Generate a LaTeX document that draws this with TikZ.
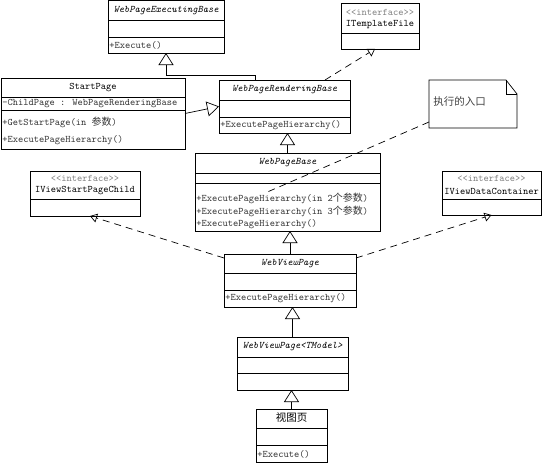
\documentclass[tikz,border=0pt]{standalone}
\usepackage{fontspec}
\newfontfamily\cjk{Noto Sans CJK SC}
\usetikzlibrary{arrows.meta,calc}
\begin{document}
\begin{tikzpicture}[x=1pt,y=-1pt,line width=0.7pt,
  cls/.style={draw=black,fill=white,inner sep=0pt,outer sep=0pt},
  ttl/.style={font=\ttfamily\itshape\fontsize{10}{12}\selectfont,inner sep=0pt,text=black},
  ttn/.style={font=\ttfamily\fontsize{10}{12}\selectfont,inner sep=0pt,text=black},
  mem/.style={font=\ttfamily\fontsize{10}{12}\selectfont,inner sep=0pt,anchor=west,text=black!80},
  stereo/.style={font=\ttfamily\fontsize{10}{12}\selectfont,inner sep=0pt,text=black!50},
  inh/.style={draw=black,line width=0.7pt,-{Triangle[open,length=12pt,width=15pt]}},
  real/.style={draw=black,line width=0.7pt,dash pattern=on 7pt off 5pt,-{Triangle[open,length=7pt,width=9pt]}},
  anc/.style={draw=black,line width=0.7pt,dash pattern=on 7pt off 5pt}]
\useasboundingbox (0,0) rectangle (548,463);

% ---- connectors (drawn first, boxes on top) ----
\node[cls,minimum width=116pt,minimum height=52.5pt] (wpeb) at (166,26.75) {};
\node[cls,minimum width=78pt,minimum height=46pt] (itf) at (380,26) {};
\node[cls,minimum width=184pt,minimum height=71pt] (sp) at (93,113.5) {};
\node[cls,minimum width=131pt,minimum height=53pt] (wprb) at (284.5,106.5) {};
\node[minimum width=88pt,minimum height=48pt,inner sep=0pt,outer sep=0pt] (note) at (473,104) {};
\node[cls,minimum width=185pt,minimum height=78pt] (wpb) at (287.5,192) {};
\node[cls,minimum width=110pt,minimum height=45pt] (ivspc) at (85,193.5) {};
\node[cls,minimum width=99pt,minimum height=44pt] (ivdc) at (491.5,193) {};
\node[cls,minimum width=132pt,minimum height=53pt] (wvp) at (290,280.5) {};
\node[cls,minimum width=111pt,minimum height=53pt] (wvpt) at (292.5,363.5) {};
\node[cls,minimum width=71pt,minimum height=53pt] (view) at (291.5,435.5) {};

% separators
\draw (wpeb.west |- 0,20) -- (wpeb.east |- 0,20);
\draw (wpeb.west |- 0,37) -- (wpeb.east |- 0,37);
\draw (itf.west |- 0,33) -- (itf.east |- 0,33);
\draw (sp.west |- 0,97) -- (sp.east |- 0,97);
\draw (sp.west |- 0,110) -- (sp.east |- 0,110);
\draw (wprb.west |- 0,100) -- (wprb.east |- 0,100);
\draw (wprb.west |- 0,117) -- (wprb.east |- 0,117);
\draw (wpb.west |- 0,173) -- (wpb.east |- 0,173);
\draw (wpb.west |- 0,183) -- (wpb.east |- 0,183);
\draw (ivspc.west |- 0,199) -- (ivspc.east |- 0,199);
\draw (ivdc.west |- 0,199) -- (ivdc.east |- 0,199);
\draw (wvp.west |- 0,273) -- (wvp.east |- 0,273);
\draw (wvp.west |- 0,290) -- (wvp.east |- 0,290);
\draw (wvpt.west |- 0,357) -- (wvpt.east |- 0,357);
\draw (wvpt.west |- 0,373) -- (wvpt.east |- 0,373);
\draw (view.west |- 0,428) -- (view.east |- 0,428);
\draw (view.west |- 0,445) -- (view.east |- 0,445);

% note shape
\draw (note.north west) -- ($(note.north east)+(-11,0)$) -- ($(note.north east)+(0,14)$) -- (note.south east) -- (note.south west) -- cycle;
\draw ($(note.north east)+(-11,0)$) -- ($(note.north east)+(-11,14)$) -- ($(note.north east)+(0,14)$);

% texts
\node[ttl] at (wpeb.center |- 0,11) {WebPageExecutingBase};
\node[mem] at (109,45) {+Execute()};

\node[stereo] at (itf.center |- 0,12) {\textless\textless interface\textgreater\textgreater};
\node[ttn] at (itf.center |- 0,25) {ITemplateFile};

\node[ttn] at (sp.center |- 0,88) {StartPage};
\node[mem] at (2,104) {-ChildPage : WebPageRenderingBase};
\node[mem] at (2,122) {+GetStartPage(in {\cjk 参数})};
\node[mem] at (2,140) {+ExecutePageHierarchy()};

\node[ttl] at (wprb.center |- 0,90) {WebPageRenderingBase};
\node[mem] at (220,125) {+ExecutePageHierarchy()};

\node[font=\cjk\fontsize{10.5}{12}\selectfont,text=black!75,inner sep=0pt,anchor=west] at (433,102) {执行的入口};

\node[ttl] at (wpb.center |- 0,163) {WebPageBase};
\node[mem] at (196,198) {+ExecutePageHierarchy(in 2{\cjk 个参数})};
\node[mem] at (196,211) {+ExecutePageHierarchy(in 3{\cjk 个参数})};
\node[mem] at (196,224) {+ExecutePageHierarchy()};

\node[stereo] at (ivspc.center |- 0,178) {\textless\textless interface\textgreater\textgreater};
\node[ttn] at (ivspc.center |- 0,191) {IViewStartPageChild};

\node[stereo] at (ivdc.center |- 0,178) {\textless\textless interface\textgreater\textgreater};
\node[ttn] at (ivdc.center |- 0,191) {IViewDataContainer};

\node[ttl] at (wvp.center |- 0,264) {WebViewPage};
\node[mem] at (225,298) {+ExecutePageHierarchy()};

\node[ttl] at (wvpt.center |- 0,347) {WebViewPage\textless TModel\textgreater};

\node[font=\cjk\fontsize{10.5}{12}\selectfont,inner sep=0pt] at (view.center |- 0,418) {视图页};
\node[mem] at (257,454) {+Execute()};

% connectors
\draw[inh] ($(wprb.north west)+(36,0)$) -- ++(0,-5) -| (wpeb.south);
\draw[inh] (sp.east) -- (wprb.west);
\draw[real] ($(wprb.north east)+(-25,0)$) -- ($(itf.south)+(-5,0)$);
\draw[inh] (wpb.north) -- (wpb.north |- wprb.south);
\draw[inh] (wvp.north) -- (wvp.north |- wpb.south);
\draw[inh] (wvpt.north) -- (wvpt.north |- wvp.south);
\draw[inh] (view.north) -- (view.north |- wvpt.south);
\draw[real] ($(wvp.north west)+(0,4)$) -- ($(ivspc.south)+(5,0)$);
\draw[real] ($(wvp.north east)+(0,4)$) -- (ivdc.south);
\coordinate (m1) at (265,193);
\draw[anc] ($(note.south west)+(0,-6)$) -- (m1);
\end{tikzpicture}
\end{document}
